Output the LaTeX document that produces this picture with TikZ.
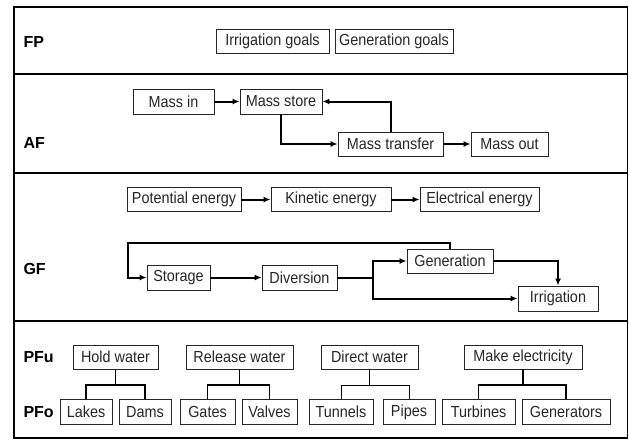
\documentclass[tikz,border=0pt]{standalone}
\usepackage{fontspec}
\setmainfont{Liberation Sans}
\newfontfamily\boxfont{Liberation Sans}[FakeStretch=0.9]
\usetikzlibrary{arrows.meta,calc}
\begin{document}
\begin{tikzpicture}[x=1pt,y=-1pt,
  box/.style={draw=black!85,line width=0.8pt,inner sep=0pt,minimum height=24pt,
    font=\boxfont\fontsize{16}{18}\selectfont,text=black!85},
  lev/.style={anchor=west,font=\fontsize{16}{18}\selectfont\bfseries},
  arr/.style={line width=2pt,-{Latex[length=7pt,width=6pt]}},
  con/.style={line width=2pt},
  sep/.style={line width=1.8pt},
]
\useasboundingbox (0,0) rectangle (629,439);
% frame and separators
\draw[line width=1.3pt] (14,7) rectangle (627.5,438);
\draw[sep] (14,74) -- (627.5,74);
\draw[sep] (14,173) -- (627.5,173);
\draw[sep] (14,321) -- (627.5,321);
% level labels
\node[lev] (lFP) at (20,42) {FP};
\node[lev] (lAF) at (20,143) {AF};
\node[lev] (lGF) at (20,269) {GF};
\node[lev] (lPFu) at (20,357) {PFu};
\node[lev] (lPFo) at (20,412) {PFo};
% FP
\node[box,minimum width=113pt] (irrgoals) at (272.5,41) {Irrigation goals};
\node[box,minimum width=118pt] (gengoals) at (394,41) {Generation goals};
% AF
\node[box,minimum width=81pt,minimum height=25pt] (massin) at (173.5,101.5) {Mass in};
\node[box,minimum width=82pt,minimum height=25pt] (massstore) at (281,101.5) {Mass store};
\node[box,minimum width=105pt] (masstransfer) at (390.5,144) {Mass transfer};
\node[box,minimum width=77pt] (massout) at (509.5,144) {Mass out};
\draw[arr] (massin) -- (massstore);
\draw[arr] (massstore.south) |- (masstransfer.west);
\draw[arr] (masstransfer.north) |- (massstore.east);
\draw[arr] (masstransfer) -- (massout);
% GF energy row
\node[box,minimum width=114pt] (pot) at (184,199.5) {Potential energy};
\node[box,minimum width=120pt] (kin) at (331,199.5) {Kinetic energy};
\node[box,minimum width=119pt] (elec) at (479.5,199.5) {Electrical energy};
\draw[arr] (pot) -- (kin);
\draw[arr] (kin) -- (elec);
% GF flow row
\node[box,minimum width=63pt,minimum height=25pt] (storage) at (178.5,277.5) {Storage};
\node[box,minimum width=75pt,minimum height=25pt] (diversion) at (299.5,277.5) {Diversion};
\node[box,minimum width=86pt] (generation) at (450,261) {Generation};
\node[box,minimum width=80pt,minimum height=25pt] (irrigation) at (558,298.5) {Irrigation};
\coordinate (fbtop) at (128,243);
\coordinate (jn) at (373,277.5);
\draw[arr] (generation.north) -- (generation.north |- fbtop) -- (fbtop) |- (storage.west);
\draw[arr] (storage) -- (diversion);
\draw[con] (diversion.east) -- (jn);
\draw[arr] (jn) |- (generation.west);
\draw[arr] (jn) |- (irrigation.west);
\draw[arr] (generation.east) -| (irrigation.north);
% PFu
\node[box,minimum width=85pt] (hold) at (115.5,357) {Hold water};
\node[box,minimum width=107pt] (release) at (239.5,357) {Release water};
\node[box,minimum width=97pt] (direct) at (369.5,357) {Direct water};
\node[box,minimum width=118pt] (make) at (523,357) {Make electricity};
% PFo
\node[box,minimum width=52pt,minimum height=25pt] (lakes) at (86,412) {Lakes};
\node[box,minimum width=52pt,minimum height=25pt] (dams) at (145,412) {Dams};
\node[box,minimum width=55pt,minimum height=25pt] (gates) at (207.5,412) {Gates};
\node[box,minimum width=55pt,minimum height=25pt] (valves) at (269.5,412) {Valves};
\node[box,minimum width=64pt,minimum height=25pt] (tunnels) at (341,412) {Tunnels};
\node[box,minimum width=52pt,minimum height=25pt] (pipes) at (409,412) {Pipes};
\node[box,minimum width=73pt,minimum height=25pt] (turbines) at (478.5,412) {Turbines};
\node[box,minimum width=88pt,minimum height=25pt] (generators) at (566,412) {Generators};
% trees
\coordinate (pfj) at (0,385);
\foreach \p/\a/\b/\w in {hold/lakes/dams/1.8pt,release/gates/valves/1.8pt,direct/tunnels/pipes/1pt,make/turbines/generators/1.3pt}{
  \draw[line width=\w] (\p.south) -- (\p.south |- pfj);
  \draw[line width=\w] (\a.north) -- (\a.north |- pfj) -- (\b.north |- pfj) -- (\b.north);
}
\end{tikzpicture}
\end{document}
